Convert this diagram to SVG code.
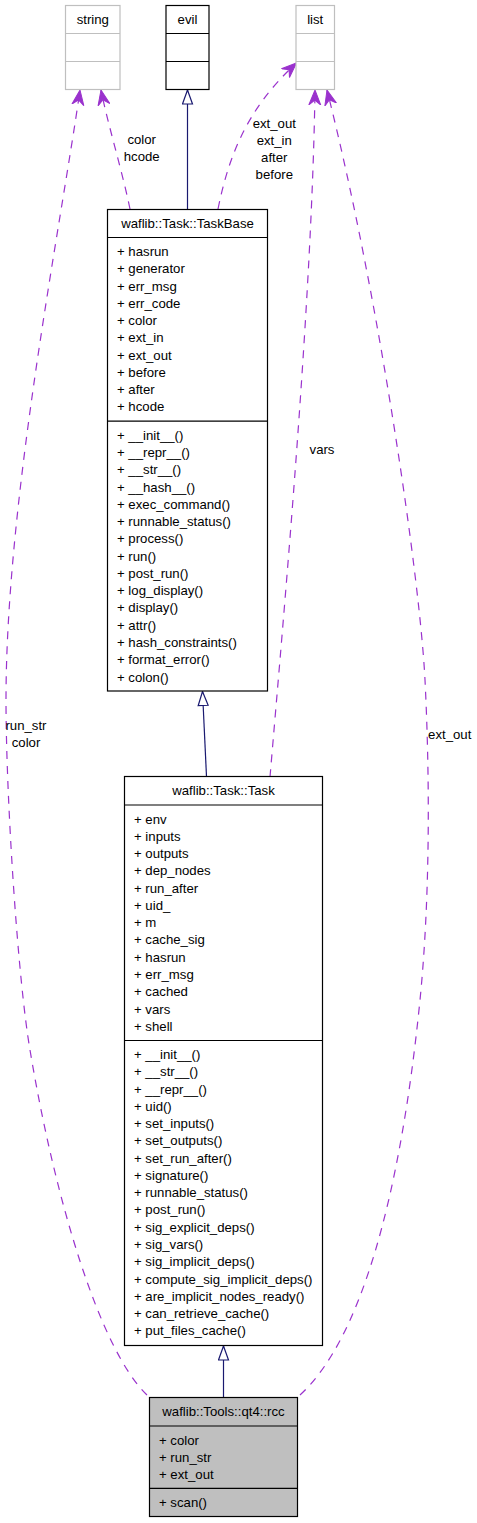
<svg xmlns="http://www.w3.org/2000/svg" width="477" height="1523" viewBox="0 0 477 1523">
<style>
text{font-family:"Liberation Sans",Arial,sans-serif;font-size:13.2px;fill:#000}
.c{text-anchor:middle}
.box{fill:#fff;stroke:#000;stroke-width:1.2}
.gbox{fill:#fff;stroke:#bfbfbf;stroke-width:1.2}
.sel{fill:#bfbfbf;stroke:#000;stroke-width:1.2}
.sep{stroke:#000;stroke-width:1.2}
.gsep{stroke:#bfbfbf;stroke-width:1.2}
.inh{fill:none;stroke:#191970;stroke-width:1.2;marker-end:url(#tri)}
.use{fill:none;stroke:#9a32cd;stroke-width:1.2;stroke-dasharray:8,7;marker-end:url(#vee)}
</style>
<defs>
<marker id="tri" markerUnits="userSpaceOnUse" markerWidth="16" markerHeight="12" viewBox="0 0 16 12" refX="15" refY="6" orient="auto">
<path d="M1,1 L15,6 L1,11 z" fill="#fff" stroke="#191970" stroke-width="1.2"/>
</marker>
<marker id="vee" markerUnits="userSpaceOnUse" markerWidth="16" markerHeight="14" viewBox="0 0 16 14" refX="15" refY="7" orient="auto">
<path d="M0,1 L15,7 L0,13 L5,7 z" fill="#9a32cd" stroke="#9a32cd" stroke-width="1"/>
</marker>
</defs>
<rect width="477" height="1523" fill="#fff"/>

<g id="connectors">
<path class="inh" d="M187.5,209.5 L187.5,90"/>
<path class="inh" d="M206.5,776.5 L202.5,691.5"/>
<path class="inh" d="M223.5,1397.5 L223.5,1346"/>
<path class="use" d="M147,1395 C100,1350 55,1200 30,1050 C18,980 6,800 6,700 C6,500 60,230 80,90"/>
<path class="use" d="M130,209 C122,170 108,125 101,90"/>
<path class="use" d="M218,209 C228,160 245,110 296.5,63"/>
<path class="use" d="M270,777 C285,600 312,300 315,90"/>
<path class="use" d="M300,1395 C360,1340 400,1200 420,1000 C430,900 430,780 425,680 C420,580 380,300 327,90"/>
<text class="c" x="141.7" y="144">color</text>
<text class="c" x="141.7" y="161.2">hcode</text>
<text class="c" x="274.3" y="127.5">ext_out</text>
<text class="c" x="274.3" y="144.5">ext_in</text>
<text class="c" x="274.3" y="161.5">after</text>
<text class="c" x="274.3" y="178.5">before</text>
<text class="c" x="322" y="454">vars</text>
<text class="c" x="26" y="729.5">run_str</text>
<text class="c" x="26" y="747">color</text>
<text class="c" x="449.7" y="738.8">ext_out</text>
</g>

<g id="string">
<rect class="gbox" x="65.5" y="5.5" width="54.5" height="84"/>
<line class="gsep" x1="65.5" y1="33.5" x2="120" y2="33.5"/>
<line class="gsep" x1="65.5" y1="61.5" x2="120" y2="61.5"/>
<text class="c" x="92.8" y="23.5">string</text>
</g>

<g id="evil">
<rect class="box" x="166" y="5.5" width="43" height="84"/>
<line class="sep" x1="166" y1="33.5" x2="209" y2="33.5"/>
<line class="sep" x1="166" y1="61.5" x2="209" y2="61.5"/>
<text class="c" x="187.5" y="23.5">evil</text>
</g>

<g id="list">
<rect class="gbox" x="296" y="5.5" width="38.5" height="84"/>
<line class="gsep" x1="296" y1="33.5" x2="334.5" y2="33.5"/>
<line class="gsep" x1="296" y1="61.5" x2="334.5" y2="61.5"/>
<text class="c" x="315.2" y="23.5">list</text>
</g>

<g id="TaskBase">
<rect class="box" x="107.5" y="209.5" width="160" height="481.5"/>
<line class="sep" x1="107.5" y1="237.5" x2="267.5" y2="237.5"/>
<line class="sep" x1="107.5" y1="421.2" x2="267.5" y2="421.2"/>
<text class="c" x="187.5" y="227.8">waflib::Task::TaskBase</text>
<text x="117" y="256">+ hasrun</text>
<text x="117" y="273.3">+ generator</text>
<text x="117" y="290.5">+ err_msg</text>
<text x="117" y="307.8">+ err_code</text>
<text x="117" y="325.1">+ color</text>
<text x="117" y="342.4">+ ext_in</text>
<text x="117" y="359.6">+ ext_out</text>
<text x="117" y="376.9">+ before</text>
<text x="117" y="394.2">+ after</text>
<text x="117" y="411.4">+ hcode</text>
<text x="117" y="439.7">+ __init__()</text>
<text x="117" y="457">+ __repr__()</text>
<text x="117" y="474.2">+ __str__()</text>
<text x="117" y="491.5">+ __hash__()</text>
<text x="117" y="508.8">+ exec_command()</text>
<text x="117" y="526">+ runnable_status()</text>
<text x="117" y="543.3">+ process()</text>
<text x="117" y="560.6">+ run()</text>
<text x="117" y="577.9">+ post_run()</text>
<text x="117" y="595.1">+ log_display()</text>
<text x="117" y="612.4">+ display()</text>
<text x="117" y="629.7">+ attr()</text>
<text x="117" y="646.9">+ hash_constraints()</text>
<text x="117" y="664.2">+ format_error()</text>
<text x="117" y="681.5">+ colon()</text>
</g>

<g id="Task">
<rect class="box" x="124.5" y="776.5" width="198" height="569"/>
<line class="sep" x1="124.5" y1="805" x2="322.5" y2="805"/>
<line class="sep" x1="124.5" y1="1040.5" x2="322.5" y2="1040.5"/>
<text class="c" x="223.5" y="795">waflib::Task::Task</text>
<text x="134" y="823.5">+ env</text>
<text x="134" y="840.8">+ inputs</text>
<text x="134" y="858">+ outputs</text>
<text x="134" y="875.3">+ dep_nodes</text>
<text x="134" y="892.6">+ run_after</text>
<text x="134" y="909.9">+ uid_</text>
<text x="134" y="927.1">+ m</text>
<text x="134" y="944.4">+ cache_sig</text>
<text x="134" y="961.7">+ hasrun</text>
<text x="134" y="978.9">+ err_msg</text>
<text x="134" y="996.2">+ cached</text>
<text x="134" y="1013.5">+ vars</text>
<text x="134" y="1030.7">+ shell</text>
<text x="134" y="1059">+ __init__()</text>
<text x="134" y="1076.3">+ __str__()</text>
<text x="134" y="1093.5">+ __repr__()</text>
<text x="134" y="1110.8">+ uid()</text>
<text x="134" y="1128.1">+ set_inputs()</text>
<text x="134" y="1145.4">+ set_outputs()</text>
<text x="134" y="1162.6">+ set_run_after()</text>
<text x="134" y="1179.9">+ signature()</text>
<text x="134" y="1197.2">+ runnable_status()</text>
<text x="134" y="1214.4">+ post_run()</text>
<text x="134" y="1231.7">+ sig_explicit_deps()</text>
<text x="134" y="1249">+ sig_vars()</text>
<text x="134" y="1266.2">+ sig_implicit_deps()</text>
<text x="134" y="1283.5">+ compute_sig_implicit_deps()</text>
<text x="134" y="1300.8">+ are_implicit_nodes_ready()</text>
<text x="134" y="1318">+ can_retrieve_cache()</text>
<text x="134" y="1335.3">+ put_files_cache()</text>
</g>

<g id="rcc">
<rect class="sel" x="149.5" y="1397.5" width="148" height="119"/>
<line class="sep" x1="149.5" y1="1426" x2="297.5" y2="1426"/>
<line class="sep" x1="149.5" y1="1488.3" x2="297.5" y2="1488.3"/>
<text class="c" x="223.5" y="1415.8">waflib::Tools::qt4::rcc</text>
<text x="159" y="1444.5">+ color</text>
<text x="159" y="1461.8">+ run_str</text>
<text x="159" y="1479">+ ext_out</text>
<text x="159" y="1507">+ scan()</text>
</g>
</svg>
